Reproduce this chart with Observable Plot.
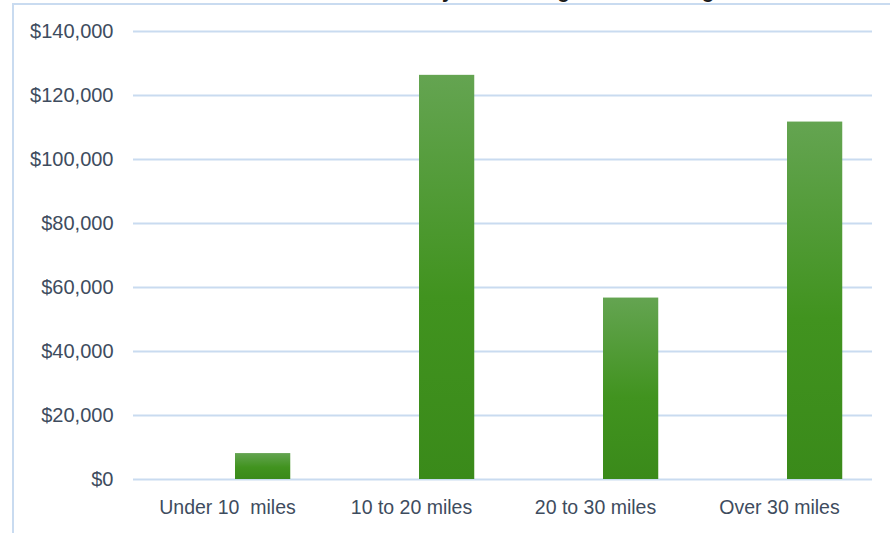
<!DOCTYPE html>
<html>
<head>
<meta charset="utf-8">
<script src="https://cdn.jsdelivr.net/npm/d3@7"></script>
<script src="https://cdn.jsdelivr.net/npm/@observablehq/plot@0.6"></script>
<style>
  html, body { margin: 0; padding: 0; background: #fff; overflow: hidden; }
  #wrap { position: relative; width: 890px; height: 533px; overflow: hidden; }
  #frameLeft { position: absolute; left: 12px; top: 3px; width: 2px; height: 540px; background: #c9dbf0; }
  #frameTop { position: absolute; left: 12px; top: 3px; width: 890px; height: 2px; background: #c9dbf0; }
  #title { position: absolute; left: 372px; top: -19px; font-family: "Liberation Sans", Arial, sans-serif;
           font-size: 20px; font-weight: 700; color: #1a1a1a; white-space: nowrap; line-height: 20px; }
  #chart { position: absolute; left: 0; top: 0; }
</style>
</head>
<body>
<div id="wrap">
  <div id="title">Sales by Commuting Distance Range</div>
  <div id="frameLeft"></div>
  <div id="frameTop"></div>
  <div id="chart"></div>
</div>
<script>
const categories = ["Under 10  miles", "10 to 20 miles", "20 to 30 miles", "Over 30 miles"];
const revenue = [8100, 126300, 56700, 111700];
const yTicks = [0, 20000, 40000, 60000, 80000, 100000, 120000, 140000];

const data = categories.map((c, i) => ({category: c, value: revenue[i]}));

const plot = Plot.plot({
  width: 890,
  height: 533,
  marginLeft: 133,
  marginRight: 18,
  marginTop: 31,
  marginBottom: 54,
  style: {fontFamily: "'Liberation Sans', Arial, sans-serif", color: "#3e4c5e", background: "transparent", overflow: "visible"},
  x: {domain: categories, padding: 0, label: null},
  y: {domain: [0, 140000], label: null},
  marks: [
    () => {
      const svg = d3.create("svg:defs");
      const g = svg.append("linearGradient").attr("id", "barGrad").attr("x1", 0).attr("y1", 0).attr("x2", 0).attr("y2", 1);
      g.append("stop").attr("offset", "0%").attr("stop-color", "#64a451");
      g.append("stop").attr("offset", "55%").attr("stop-color", "#41931f");
      g.append("stop").attr("offset", "100%").attr("stop-color", "#3a8a1a");
      return svg.node();
    },
    Plot.ruleY(yTicks, {stroke: "#c9dbf0", strokeWidth: 2}),
    Plot.barY(data, {x: "category", y: "value", fill: "url(#barGrad)", insetLeft: 100, insetRight: 28.75}),
    Plot.axisY(yTicks, {tickSize: 0, tickPadding: 20, fontSize: 20, tickFormat: d => "$" + d3.format(",")(d)}),
    Plot.axisX({tickSize: 0, tickPadding: 21, fontSize: 19.5})
  ]
});
document.getElementById("chart").appendChild(plot);
</script>
</body>
</html>
